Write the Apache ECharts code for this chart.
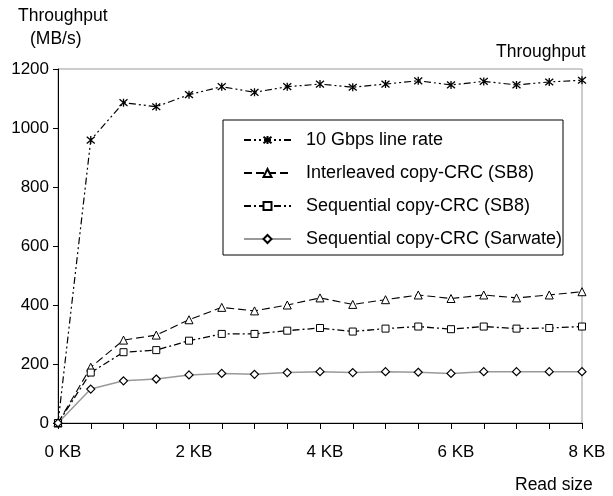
<!DOCTYPE html>
<html><head><meta charset="utf-8">
<script src="https://cdn.jsdelivr.net/npm/echarts@6/dist/echarts.min.js"></script>
<style>html,body{margin:0;padding:0;background:#fff}#c{width:613px;height:496px}</style>
</head><body><div id="c"></div>
<script>
const readSizes = [0,0.5,1,1.5,2,2.5,3,3.5,4,4.5,5,5.5,6,6.5,7,7.5,8];
const lineRate = [0,959,1086,1072,1113,1140,1121,1140,1149,1138,1149,1160,1146,1158,1146,1156,1162];
const interleavedSB8 = [0,189,281,298,350,392,380,400,424,402,418,434,422,434,424,434,445];
const sequentialSB8 = [0,171,240,247,279,302,302,313,322,310,320,327,318,327,320,322,327];
const sequentialSarwate = [0,115,143,149,163,168,165,171,174,171,174,172,168,174,174,174,174];
const seriesNames = ['10 Gbps line rate','Interleaved copy-CRC (SB8)','Sequential copy-CRC (SB8)','Sequential copy-CRC (Sarwate)'];
const yTicks = {min:0,max:1200,interval:200};
const xTicks = {min:0,max:8,interval:0.5,labelEvery:2};

const FONT = 'Liberation Sans, Arial, sans-serif';
const pair = arr => readSizes.map((x,i)=>[x,arr[i]]);
const chart = echarts.init(document.getElementById('c'), null, {renderer:'canvas'});
const asterisk = 'path://M0,0L10,10M10,0L0,10M5,-1L5,11';
chart.setOption({
  animation:false,
  backgroundColor:'#fff',
  textStyle:{fontFamily:FONT,color:'#000'},
  grid:{left:58,right:31,top:69,bottom:73,show:true,borderColor:'#999',borderWidth:1},
  xAxis:{type:'value',min:xTicks.min,max:xTicks.max,interval:xTicks.interval,
    axisLine:{lineStyle:{color:'#000',width:1}},
    axisTick:{show:true,length:6,lineStyle:{color:'#000'}},
    splitLine:{show:false},
    axisLabel:{color:'#000',fontSize:17,fontFamily:FONT,margin:21,padding:[0,0,0,10],
      formatter:v=> (Math.abs(v % xTicks.labelEvery)<1e-9 ? v+' KB' : '')}},
  yAxis:{type:'value',min:yTicks.min,max:yTicks.max,interval:yTicks.interval,
    axisLine:{show:true,lineStyle:{color:'#000',width:1}},
    axisTick:{show:true,length:5,lineStyle:{color:'#000'}},
    splitLine:{show:false},
    axisLabel:{color:'#000',fontSize:17,fontFamily:FONT,margin:9,formatter:v=>String(v)}},
  legend:{orient:'vertical',left:243,top:130,itemWidth:47,itemHeight:10,itemGap:13,padding:0,
    textStyle:{fontSize:18,fontFamily:FONT,color:'#000',lineHeight:20,padding:[0,0,0,10]},
    data:seriesNames,z:6},
  graphic:[
    {type:'rect',shape:{x:223,y:120,width:340,height:135},style:{fill:'#fff',stroke:'#000',lineWidth:1},z:5},
    {type:'text',left:18,top:7,style:{text:'Throughput',font:'17.5px '+FONT,fill:'#000'}},
    {type:'text',left:30,top:30,style:{text:'(MB/s)',font:'17.5px '+FONT,fill:'#000'}},
    {type:'text',left:496,top:43,style:{text:'Throughput',font:'17.5px '+FONT,fill:'#000'}},
    {type:'text',left:515,top:476,style:{text:'Read size',font:'17.5px '+FONT,fill:'#000'}}
  ],
  series:[
    {name:seriesNames[0],type:'line',data:pair(lineRate),symbol:asterisk,symbolSize:8,showAllSymbol:true,
      lineStyle:{color:'#000',width:1.2,type:[7,3,2,3,2,3]},
      itemStyle:{color:'rgba(0,0,0,0)',borderColor:'#000',borderWidth:1.3},z:3},
    {name:seriesNames[1],type:'line',data:pair(interleavedSB8),symbol:'triangle',symbolSize:8,showAllSymbol:true,
      lineStyle:{color:'#000',width:1.1,type:[8,4]},
      itemStyle:{color:'#fff',borderColor:'#000',borderWidth:1},z:3},
    {name:seriesNames[2],type:'line',data:pair(sequentialSB8),symbol:'rect',symbolSize:7,showAllSymbol:true,
      lineStyle:{color:'#000',width:1.3,type:[7,3,2,3]},
      itemStyle:{color:'#fff',borderColor:'#000',borderWidth:1},z:3},
    {name:seriesNames[3],type:'line',data:pair(sequentialSarwate),symbol:'diamond',symbolSize:8,showAllSymbol:true,
      lineStyle:{color:'#999',width:1.5},
      itemStyle:{color:'#fff',borderColor:'#000',borderWidth:1.2},z:3}
  ]
});
</script></body></html>
